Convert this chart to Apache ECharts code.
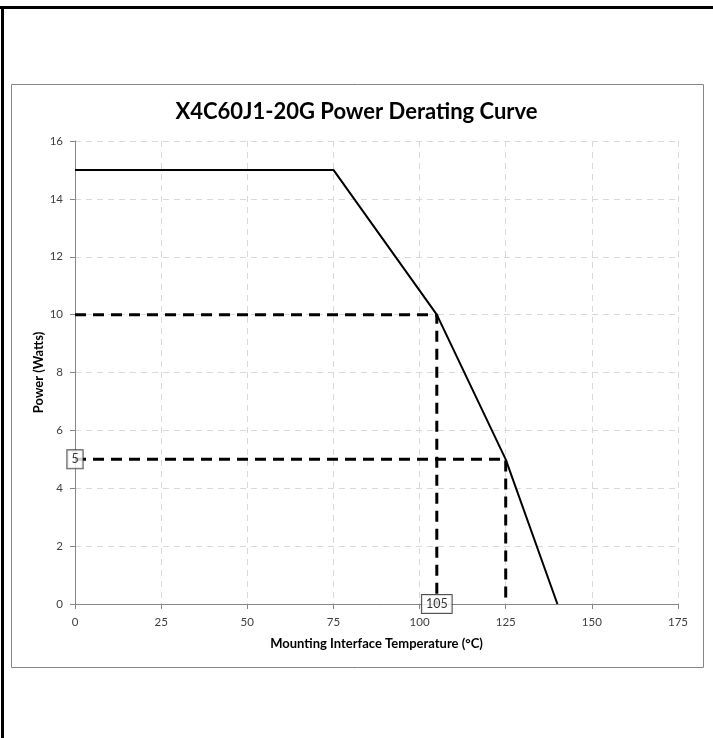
<!DOCTYPE html>
<html><head><meta charset="utf-8">
<script src="https://cdn.jsdelivr.net/npm/echarts@6/dist/echarts.min.js"></script>
<style>html,body{margin:0;padding:0;background:#fff;}#c{width:713px;height:738px;}</style>
</head><body><div id="c"></div>
<script>
const titleText = 'X4C60J1-20G Power Derating Curve';
const xName = 'Mounting Interface Temperature (\u00B0C)';
const yName = 'Power (Watts)';
const temps = [0, 75, 105, 125, 140];
const power = [15, 15, 10, 5, 0];
const guide10X = [0, 105, 105];
const guide10Y = [10, 10, 0];
const guide5X = [0, 125, 125];
const guide5Y = [5, 5, 0];
const labelX = [0, 105];
const labelY = [5, 0];
const labelText = ['5', '105'];

const zip = (a, b) => a.map((v, i) => [v, b[i]]);
const font = 'Lato, "Open Sans", sans-serif';
const chart = echarts.init(document.getElementById('c'), null, {renderer: 'canvas'});
chart.setOption({
  animation: false,
  backgroundColor: '#fff',
  graphic: [
    {type: 'line', shape: {x1: 0, y1: 7.5, x2: 713, y2: 7.5}, style: {stroke: '#000', lineWidth: 3}, silent: true},
    {type: 'line', shape: {x1: 2.5, y1: 6, x2: 2.5, y2: 738}, style: {stroke: '#000', lineWidth: 3}, silent: true},
    {type: 'rect', shape: {x: 11.5, y: 84.5, width: 692, height: 583}, style: {fill: 'none', stroke: '#868686', lineWidth: 1}, silent: true, z: -1}
  ],
  title: {
    text: titleText, left: 'center', top: 96,
    textStyle: {fontFamily: font, fontWeight: 'bold', fontSize: 22, color: '#000'}
  },
  grid: {left: 75, right: 35, top: 141, bottom: 134},
  xAxis: {
    type: 'value', min: 0, max: 175, interval: 25,
    name: xName, nameLocation: 'middle', nameGap: 33, nameMoveOverlap: false,
    nameTextStyle: {fontFamily: font, fontWeight: 'bold', fontSize: 13, color: '#000'},
    axisLine: {show: true, lineStyle: {color: '#868686'}},
    axisTick: {show: true, length: 5, lineStyle: {color: '#868686'}},
    axisLabel: {fontFamily: font, fontSize: 11.5, color: '#404040', margin: 12},
    splitLine: {show: true, lineStyle: {color: '#d9d9d9', type: [6, 5]}}
  },
  yAxis: {
    type: 'value', min: 0, max: 16, interval: 2,
    name: yName, nameLocation: 'middle', nameGap: 30, nameRotate: 90, nameMoveOverlap: false,
    nameTextStyle: {fontFamily: font, fontWeight: 'bold', fontSize: 13, color: '#000'},
    axisLine: {show: true, lineStyle: {color: '#868686'}},
    axisTick: {show: true, length: 5, lineStyle: {color: '#868686'}},
    axisLabel: {fontFamily: font, fontSize: 11.5, color: '#404040', margin: 12},
    splitLine: {show: true, lineStyle: {color: '#d9d9d9', type: [6, 5]}}
  },
  series: [
    {type: 'line', data: zip(guide10X, guide10Y), symbol: 'none', lineStyle: {color: '#000', width: 3, type: [11, 7]}, z: 3},
    {type: 'line', data: zip(guide5X, guide5Y), symbol: 'none', lineStyle: {color: '#000', width: 3, type: [11, 7]}, z: 3},
    {type: 'line', data: zip(temps, power), symbol: 'none', lineStyle: {color: '#000', width: 2}, z: 4},
    {type: 'scatter', data: labelX.map((x, i) => ({value: [x, labelY[i]], label: {formatter: labelText[i]}})),
     symbolSize: 0, z: 10, clip: false,
     label: {show: true, position: 'inside', fontFamily: font, fontSize: 12.5, color: '#000',
       backgroundColor: '#fff', borderColor: '#262626', borderWidth: 1, padding: [3, 4, 2, 4]}}
  ]
});
</script></body></html>
